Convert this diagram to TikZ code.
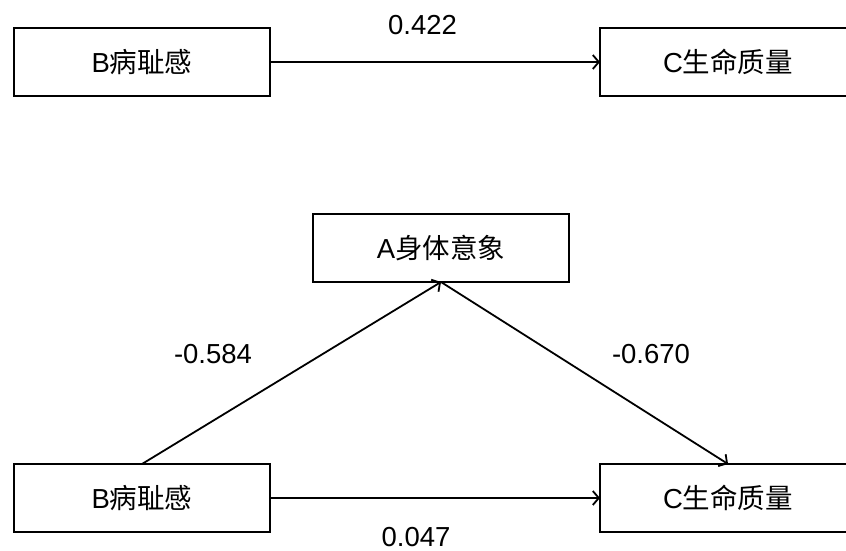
\documentclass[tikz,border=0pt]{standalone}
\usepackage{fontspec}
\setmainfont{Liberation Sans}
\newfontfamily\cjk{Noto Sans CJK SC}
\usetikzlibrary{arrows.meta}
\tikzset{
  box/.style={draw=black, line width=2pt, fill=white, minimum width=256pt, minimum height=68pt, inner sep=0pt, outer sep=0pt, font=\fontsize{27.5}{30}\selectfont},
  lbl/.style={font=\fontsize{27.5}{30}\selectfont, inner sep=0pt},
  conn/.style={line width=1.8pt, -{Straight Barb[length=6pt,width=14pt,line width=1.8pt]}}
}
\begin{document}
\begin{tikzpicture}[x=1pt,y=-1pt]
\clip (0,0) rectangle (846,551);
\fill[white] (0,0) rectangle (846,551);
\node[box] (tb) at (142,62) {B{\cjk 病耻感}};
\node[box] (tc) at (728,62) {C{\cjk 生命质量}};
\node[box] (a) at (441,248) {A{\cjk 身体意象}};
\node[box] (bb) at (142,498) {B{\cjk 病耻感}};
\node[box] (bc) at (728,498) {C{\cjk 生命质量}};
\draw[conn] (tb.east) -- (tc.west);
\draw[conn] (bb.north) -- (a.south);
\draw[conn] (a.south) -- (bc.north);
\draw[conn] (bb.east) -- (bc.west);
\node[lbl] (l1) at (422.5,25) {0.422};
\node[lbl] (l2) at (213,354) {-0.584};
\node[lbl] (l3) at (651,354) {-0.670};
\node[lbl] (l4) at (416,537) {0.047};
\end{tikzpicture}
\end{document}
